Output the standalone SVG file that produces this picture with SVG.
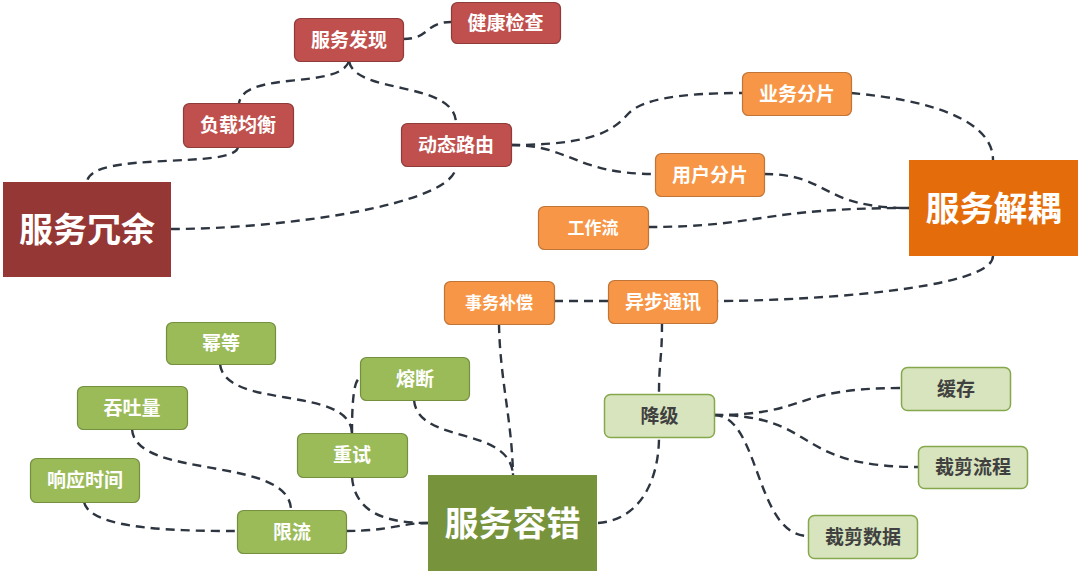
<svg xmlns="http://www.w3.org/2000/svg" width="1080" height="574" viewBox="0 0 1080 574">
<style>
text{font-family:'Liberation Sans','Noto Sans CJK SC',sans-serif;font-weight:bold;text-anchor:middle;fill:#fff}
.s{font-size:19px}
.m{font-size:17px}
.l{font-size:34px}
.red rect{fill:#C0504D;stroke:#8E3B39;stroke-width:1.2}
.org rect{fill:#F79646;stroke:#C07436;stroke-width:1.2}
.grn rect{fill:#9BBB59;stroke:#74903F;stroke-width:1.2}
.lgr rect{fill:#D7E4BD;stroke:#86A84C;stroke-width:1.5}
.lgr text{fill:#404040}
#connectors path{fill:none;stroke:#2D3540;stroke-width:2.4;stroke-dasharray:9 6}
</style>
<rect width="1080" height="574" fill="#fff"/>
<g id="connectors">
<path d="M403,39 C430,39 425,22 451,22"/>
<path d="M349,61 C340,90 245,70 239,103"/>
<path d="M349,61 C355,95 455,80 456,123"/>
<path d="M238,147 C235,170 90,150 87,182"/>
<path d="M171,229 C280,229 456,205 456,166"/>
<path d="M511,145 C590,145 612,132 628,114 C642,99 680,93 742,93"/>
<path d="M511,145 C570,145 575,174 655,174"/>
<path d="M851,93 C930,100 993,120 993,160"/>
<path d="M764,174 C830,174 820,208 909,208"/>
<path d="M648,227 C760,227 760,208 909,208"/>
<path d="M993,256 C993,290 800,301 717,301"/>
<path d="M608,301 L554,301"/>
<path d="M499,324 C500,380 512,420 513,475"/>
<path d="M662,323 C662,360 659,360 659,394"/>
<path d="M598,523 C640,520 659,480 659,437"/>
<path d="M714,415 C810,415 790,388 901,388"/>
<path d="M714,415 C820,415 790,467 918,467"/>
<path d="M714,415 C760,415 755,536 808,536"/>
<path d="M414,400 C418,445 510,425 513,475"/>
<path d="M352,433 C352,400 354,380 360,378"/>
<path d="M220,364 C225,410 350,385 352,433"/>
<path d="M132,429 C135,480 290,455 291,510"/>
<path d="M84,502 C90,530 180,531 237,531"/>
<path d="M346,531 C390,531 400,523 428,523"/>
<path d="M352,477 C355,515 390,523 428,523"/>
</g>
<g id="n-jiankang" class="red"><rect x="451.5" y="2.5" width="109" height="41" rx="6"/><text class="s" x="505.5" y="29.5">健康检查</text></g>
<g id="n-faxian" class="red"><rect x="294.5" y="18.5" width="109" height="43" rx="6"/><text class="s" x="349" y="46.5">服务发现</text></g>
<g id="n-fuzai" class="red"><rect x="183.5" y="103.5" width="110" height="44" rx="6"/><text class="s" x="238" y="132">负载均衡</text></g>
<g id="n-luyou" class="red"><rect x="401.5" y="123.5" width="110" height="43" rx="6"/><text class="s" x="456" y="151.5">动态路由</text></g>
<g id="n-rongyu"><rect x="3" y="182" width="168" height="95" fill="#953735"/><text class="l" x="87" y="242">服务冗余</text></g>
<g id="n-yewu" class="org"><rect x="742.5" y="72.5" width="109" height="43" rx="6"/><text class="s" x="797" y="100.5">业务分片</text></g>
<g id="n-yonghu" class="org"><rect x="655.5" y="153.5" width="109" height="43" rx="6"/><text class="s" x="710" y="181.5">用户分片</text></g>
<g id="n-gongzuo" class="org"><rect x="538.5" y="206.5" width="110" height="43" rx="6"/><text class="m" x="593" y="234">工作流</text></g>
<g id="n-jieou"><rect x="909" y="160" width="169" height="96" fill="#E46C0A"/><text class="l" x="993.5" y="220.5">服务解耦</text></g>
<g id="n-shiwu" class="org"><rect x="444.5" y="281.5" width="110" height="43" rx="6"/><text class="m" x="499" y="309">事务补偿</text></g>
<g id="n-yibu" class="org"><rect x="608.5" y="280.5" width="109" height="43" rx="6"/><text class="s" x="663" y="308.5">异步通讯</text></g>
<g id="n-mideng" class="grn"><rect x="166.5" y="322.5" width="109" height="42" rx="6"/><text class="s" x="221" y="350">幂等</text></g>
<g id="n-rongduan" class="grn"><rect x="360.5" y="357.5" width="109" height="43" rx="6"/><text class="s" x="415" y="385.5">熔断</text></g>
<g id="n-tuntu" class="grn"><rect x="77.5" y="386.5" width="110" height="43" rx="6"/><text class="s" x="132" y="414.5">吞吐量</text></g>
<g id="n-chongshi" class="grn"><rect x="297.5" y="433.5" width="110" height="44" rx="6"/><text class="s" x="352" y="462">重试</text></g>
<g id="n-xiangying" class="grn"><rect x="30.5" y="458.5" width="109" height="44" rx="6"/><text class="s" x="85" y="487">响应时间</text></g>
<g id="n-xianliu" class="grn"><rect x="237.5" y="510.5" width="109" height="43" rx="6"/><text class="s" x="292" y="538.5">限流</text></g>
<g id="n-rongcuo"><rect x="428" y="475" width="169" height="96" fill="#77933C"/><text class="l" x="512.5" y="535.5">服务容错</text></g>
<g id="n-jiangji" class="lgr"><rect x="604.5" y="394.5" width="110" height="43" rx="6"/><text class="s" x="659.5" y="422.5">降级</text></g>
<g id="n-huancun" class="lgr"><rect x="901.5" y="367.5" width="109" height="43" rx="6"/><text class="s" x="956" y="395.5">缓存</text></g>
<g id="n-liucheng" class="lgr"><rect x="918.5" y="446.5" width="109" height="42" rx="6"/><text class="s" x="973" y="474">裁剪流程</text></g>
<g id="n-shuju" class="lgr"><rect x="808.5" y="515.5" width="109" height="43" rx="6"/><text class="s" x="863" y="543.5">裁剪数据</text></g>
</svg>
